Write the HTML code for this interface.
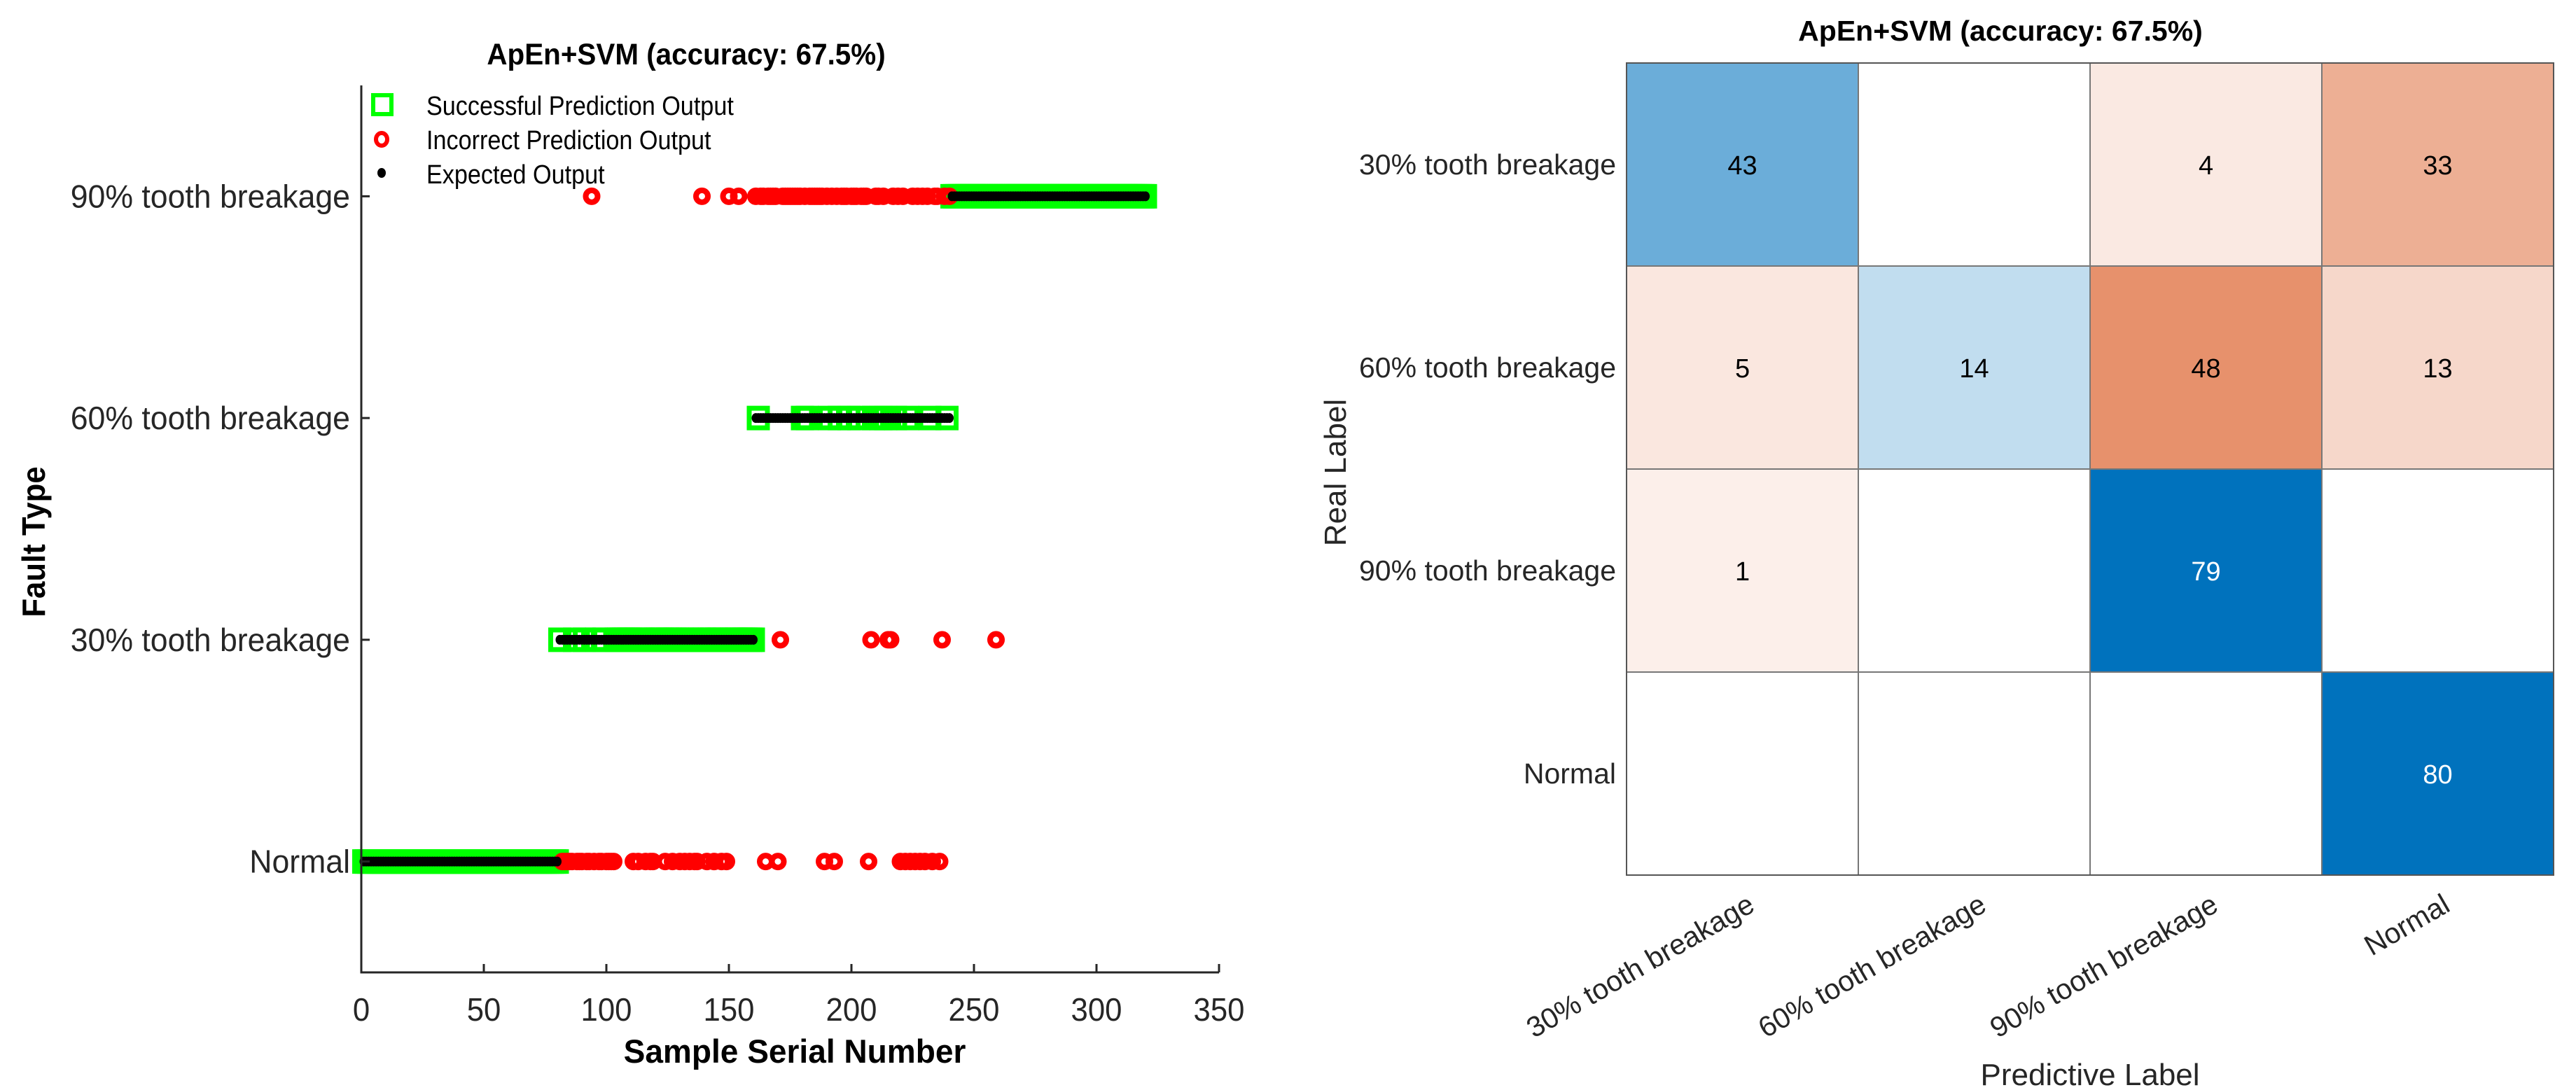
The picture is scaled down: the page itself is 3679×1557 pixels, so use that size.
<!DOCTYPE html>
<html><head><meta charset="utf-8"><style>
html,body{margin:0;padding:0;background:#fff;}
svg{display:block;font-family:"Liberation Sans",Arial,sans-serif;}
</style></head><body>
<svg id="root" width="3679" height="1557" viewBox="0 0 3679 1557" xmlns="http://www.w3.org/2000/svg">
<g id="left"></g>
<g id="right"></g>
</svg>
<script>
// ---- data: scatter ----
const classNames = ["Normal","30% tooth breakage","60% tooth breakage","90% tooth breakage"];
const classCounts = [80,80,80,80];
const xTicks = [0,50,100,150,200,250,300,350];
// misclassified samples: index and predicted class (0=Normal,1=30%,2=60%,3=90%)
const wrong30toNormal = [82,83,84,85,86,88,89,90,92,93,95,97,98,100,101,102,103,111,113,116,118,119,124,127,130,132,134,136,137,141,144,147,149];
const wrong30to90 = [94,139,150,154];
const wrong60toNormal = [165,170,189,193,207,220,222,224,226,228,230,233,236];
const wrong60to30 = [171,208,215,216,237];
const correct60 = [162,180,182,191,195,199,203,209,212,214,218,223,232,239];
const wrong90to30 = [259];
// ---- data: confusion matrix ----
const cmLabels = ["30% tooth breakage","60% tooth breakage","90% tooth breakage","Normal"];
const cmRow0 = [43,0,4,33];
const cmRow1 = [5,14,48,13];
const cmRow2 = [1,0,79,0];
const cmRow3 = [0,0,0,80];

const NS="http://www.w3.org/2000/svg";
function mk(parent,tag,attrs){const e=document.createElementNS(NS,tag);for(const k in attrs)e.setAttribute(k,attrs[k]);parent.appendChild(e);return e;}
function txt(parent,x,y,s,size,opts){opts=opts||{};
  const e=mk(parent,"text",{x:0,y:0,"font-size":size,"text-anchor":opts.anchor||"middle",fill:opts.fill||"#262626","font-weight":opts.bold?"bold":"normal",
    transform:`translate(${x},${y}) rotate(${opts.rot||0}) scale(${opts.sx||1},1)`});
  e.textContent=s;return e;}

// ---- left chart ----
const L=document.getElementById("left");
const ax={x0:516,x1:1741,y0:122,y1:1389};
const xs=v=>ax.x0+(v-0)/(350-0)*(ax.x1-ax.x0);
const ys=c=>ax.y1-(c+1-0.5)/4*(ax.y1-ax.y0);
const trueCls=[];classCounts.forEach((n,c)=>{for(let i=0;i<n;i++)trueCls.push(c);});
const pred=trueCls.slice();
wrong30toNormal.forEach(i=>pred[i-1]=0);
wrong30to90.forEach(i=>pred[i-1]=3);
for(let i=161;i<=240;i++)pred[i-1]=3;
wrong60toNormal.forEach(i=>pred[i-1]=0);
wrong60to30.forEach(i=>pred[i-1]=1);
correct60.forEach(i=>pred[i-1]=2);
wrong90to30.forEach(i=>pred[i-1]=1);

const gGreen=mk(L,"g",{});
const gRed=mk(L,"g",{});
const gBlack=mk(L,"g",{});
pred.forEach((p,i)=>{const n=i+1;const x=xs(n),y=ys(p);
  if(p===trueCls[i]) mk(gGreen,"rect",{x:x-13,y:y-14,width:26,height:28,fill:"none",stroke:"#00ff00","stroke-width":7});
  else mk(gRed,"ellipse",{cx:x,cy:y,rx:8.5,ry:8.5,fill:"none",stroke:"#ff0000","stroke-width":8});
});
trueCls.forEach((c,i)=>{mk(gBlack,"ellipse",{cx:xs(i+1),cy:ys(c),rx:6,ry:7,fill:"#000"});});

const axl=mk(L,"path",{d:`M${ax.x0},${ax.y0}V${ax.y1}H${ax.x1}`,fill:"none",stroke:"#262626","stroke-width":3});

xTicks.forEach(t=>{mk(L,"line",{x1:xs(t),x2:xs(t),y1:ax.y1,y2:ax.y1-12,stroke:"#262626","stroke-width":3});
  const e=txt(L,xs(t),1458,String(t),46,{sx:0.95});});
classNames.forEach((n,c)=>{mk(L,"line",{x1:ax.x0,x2:ax.x0+12,y1:ys(c),y2:ys(c),stroke:"#262626","stroke-width":3});
  const e=txt(L,500,ys(c)+16,n,46,{anchor:"end",sx:0.97});});
let e=txt(L,980,92,"ApEn+SVM (accuracy: 67.5%)",43,{bold:true,fill:"#000",sx:0.94});
e=txt(L,1135,1518,"Sample Serial Number",47,{bold:true,fill:"#000",sx:0.98});
e=txt(L,64,774,"Fault Type",46,{bold:true,fill:"#000",rot:-90,sx:0.95});
const lg=mk(L,"g",{});
mk(lg,"rect",{x:533,y:136,width:26,height:27,fill:"none",stroke:"#00ff00","stroke-width":6});
mk(lg,"ellipse",{cx:545,cy:199,rx:8,ry:9,fill:"none",stroke:"#ff0000","stroke-width":6});
mk(lg,"ellipse",{cx:545,cy:247,rx:6,ry:7,fill:"#000"});
[["Successful Prediction Output",164],["Incorrect Prediction Output",213],["Expected Output",262]].forEach(([s,y])=>{
  const t=txt(lg,609,y,s,38,{anchor:"start",fill:"#000",sx:0.9});});

// ---- right chart ----
const R=document.getElementById("right");
const cm=[cmRow0,cmRow1,cmRow2,cmRow3];
const gx0=2323,gx1=3647,gy0=90,gy1=1250;
const cw=(gx1-gx0)/4,chh=(gy1-gy0)/4;
function mix(c,t){t=Math.min(1,t);return `rgb(${c.map(v=>Math.round(255-(255-v)*t)).join(",")})`;}
const cells=mk(R,"g",{});
cm.forEach((row,r)=>row.forEach((v,c)=>{
  const x=gx0+c*cw,y=gy0+r*chh;
  let fill="#fff";
  const t=Math.min(1,0.08+0.93*v/80);
  if(v>0) fill = r===c ? mix([0,114,189],t) : mix([217,83,25],t);
  const rc=mk(cells,"rect",{x:x,y:y,width:cw,height:chh,fill:fill,stroke:"#777","stroke-width":2});
  
  if(v>0){const tt=txt(cells,x+cw/2,y+chh/2+14,String(v),38,{fill:(r===c&&v>60)?"#fff":"#000"});
    }
}));
mk(R,"rect",{x:gx0,y:gy0,width:gx1-gx0,height:gy1-gy0,fill:"none",stroke:"#555","stroke-width":2});
cmLabels.forEach((n,i)=>{
  let t=txt(R,2308,gy0+chh*(i+0.5)+14,n,41,{anchor:"end"});
  t=txt(R,gx0+cw*(i+0.5)+20,1300,n,41,{anchor:"end",rot:-30});
});
e=txt(R,2857,58,"ApEn+SVM (accuracy: 67.5%)",41,{bold:true,fill:"#000"});
e=txt(R,2985,1550,"Predictive Label",44,{});
e=txt(R,1922,675,"Real Label",44,{rot:-90});
</script>
</body></html>
